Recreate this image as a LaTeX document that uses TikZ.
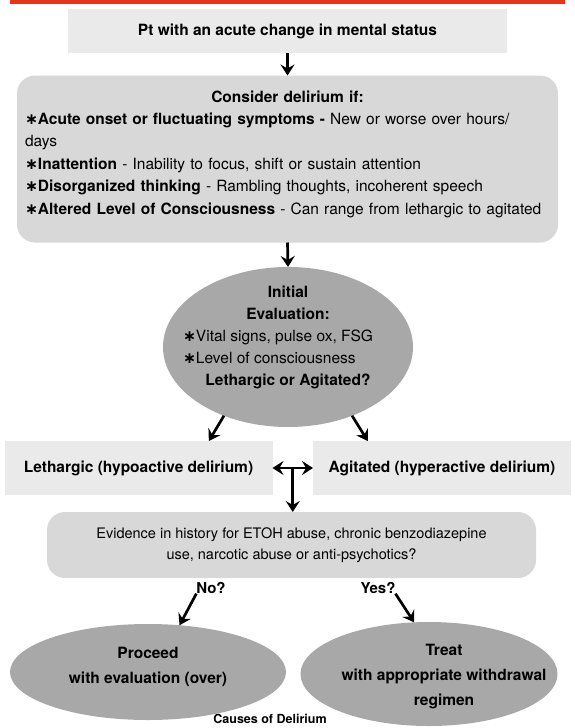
\documentclass[tikz,border=0pt]{standalone}
\usepackage{fontspec}
\setmainfont{TeX Gyre Heros}
\newfontfamily\starfont{DejaVu Sans}
\usetikzlibrary{arrows.meta,shapes.geometric,calc}
\definecolor{barred}{HTML}{E5341C}
\definecolor{paleboxfill}{HTML}{EAEAEA}
\definecolor{midboxfill}{HTML}{D8D8D8}
\definecolor{ovalfill}{HTML}{A8A8A8}
\newcommand{\bul}{{\starfont\bfseries ∗}}
\begin{document}
\begin{tikzpicture}[x=1pt,y=-1pt,
  every node/.style={inner sep=0pt,outer sep=0pt},
  bodyfont/.style={font=\fontsize{15.5}{22}\selectfont},
  palebox/.style={rectangle,fill=paleboxfill,bodyfont},
  midbox/.style={rectangle,rounded corners=18pt,fill=midboxfill,bodyfont},
  oval/.style={ellipse,fill=ovalfill},
  ovallabel/.style={align=center,font=\fontsize{15.5}{25}\selectfont\bfseries},
  tip/.tip={Stealth[length=11pt,width=14pt,inset=4pt]},
  flow/.style={line width=2.7pt,-tip},
  twoway/.style={line width=2.7pt,tip-tip},
  answer/.style={font=\fontsize{15}{18}\selectfont\bfseries}
]
\useasboundingbox (0,0) rectangle (575,728);

% header rule
\fill[barred] (10,0) rectangle (565,3.5);

% entry point
\node[palebox,minimum width=439pt,minimum height=44pt] (start) at (287.5,31)
  {\bfseries Pt with an acute change in mental status};

% delirium criteria: box first, its text block on top
\node[midbox,minimum width=541pt,minimum height=167pt] (consider) at (287.5,159) {};
\node[text width=525pt,align=left,font=\fontsize{15.5}{22.4}\selectfont] (consider-text) at (287.5,154)
  {\centering\textbf{Consider delirium if:}\par
   \raggedright
   \bul\textbf{Acute onset or fluctuating symptoms -} New or worse over hours/\par
   days\par
   \bul\textbf{Inattention} - Inability to focus, shift or sustain attention\par
   \bul\textbf{Disorganized thinking} - Rambling thoughts, incoherent speech\par
   \bul\textbf{Altered Level of Consciousness} - Can range from lethargic to agitated\par};

% initial evaluation
\node[oval,minimum width=250pt,minimum height=160pt] (eval) at (288,347) {};
\node[bodyfont,align=center] (eval-text) at (288,337)
  {\textbf{Initial}\\
   \textbf{Evaluation:}\\
   \makebox[210pt][l]{\bul Vital signs, pulse ox, FSG}\\
   \makebox[210pt][l]{\bul Level of consciousness}\\
   \textbf{Lethargic or Agitated?}};

% presentations
\node[palebox,minimum width=268pt,minimum height=54pt] (hypo) at (138.5,468)
  {\bfseries Lethargic (hypoactive delirium)};
\node[palebox,minimum width=258pt,minimum height=54pt] (hyper) at (442,468)
  {\bfseries Agitated (hyperactive delirium)};

% substance history
\node[midbox,minimum width=489pt,minimum height=66pt,align=center,
      font=\fontsize{14.5}{20.5}\selectfont] (history) at (291.5,545)
  {Evidence in history for ETOH abuse, chronic benzodiazepine\\
   use, narcotic abuse or anti-psychotics?};

\node[answer] (no) at (211,588) {No?};
\node[answer] (yes) at (378,588) {Yes?};

% outcomes
\node[oval,minimum width=276pt,minimum height=96pt] (proceed) at (148,672) {};
\node[ovallabel] (proceed-text) at (148,667)
  {Proceed\\ with evaluation (over)};
\node[oval,minimum width=257pt,minimum height=104pt] (treat) at (429,674) {};
\node[ovallabel] (treat-text) at (444,677)
  {Treat\\ with appropriate withdrawal\\ regimen};

\node[font=\fontsize{12.5}{14}\selectfont\bfseries] (causes) at (270,719) {Causes of Delirium};

% connectors
\draw[flow] (start.south) -- (consider.north);
\draw[flow] (consider.south) -- (eval.north);
\draw[flow] (eval.227) -- (hypo.21);
\draw[flow] (eval.-47) -- (hyper.160.5);
\draw[twoway] (hypo.east) -- (hyper.west);
\coordinate (fork) at ($(hypo.east)!.5!(hyper.west)$);
\draw[flow] (fork) -- (fork |- history.north);
\draw[flow] (no.south west) -- (proceed.56);
\draw[flow] (yes.south east) -- (treat.106);
\end{tikzpicture}
\end{document}
